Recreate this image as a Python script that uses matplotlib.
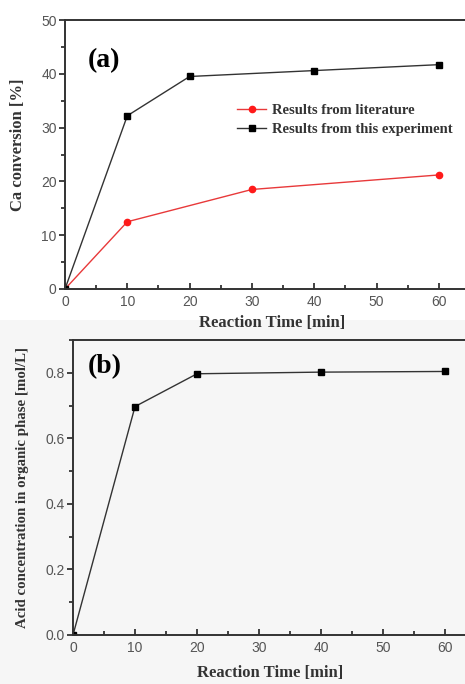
import matplotlib
matplotlib.use("Agg")
import matplotlib.pyplot as plt
from matplotlib.ticker import MultipleLocator
from matplotlib.patches import Rectangle

# Panel (a) data
lit_time = [0, 10, 30, 60]
lit_conv = [0, 12.5, 18.5, 21.2]
exp_time = [0, 10, 20, 40, 60]
exp_conv = [0, 32.2, 39.5, 40.6, 41.7]

# Panel (b) data
acid_time = [0, 10, 20, 40, 60]
acid_conc = [0, 0.697, 0.797, 0.802, 0.804]

xticks = [0, 10, 20, 30, 40, 50, 60]

W, H = 465, 684
fig = plt.figure(figsize=(W / 100, H / 100), dpi=100)
fig.patch.set_facecolor("white")
fig.add_artist(Rectangle((0, 0), 1, 1 - 320 / H, transform=fig.transFigure,
                         facecolor="#f6f6f6", edgecolor="none", zorder=0))

TICK_FAM, TICK_SIZE, TICK_COL = "Liberation Sans", 10, "#555555"
label_font = {"family": "Liberation Serif", "weight": "bold", "size": 12, "color": "#333333"}


def fix_ticklabels(ax):
    for lab in ax.get_xticklabels() + ax.get_yticklabels():
        lab.set_fontfamily(TICK_FAM)
        lab.set_fontsize(TICK_SIZE)
        lab.set_color(TICK_COL)


def style(ax, xmax, ymax, ymaj, ymin):
    ax.set_facecolor("none")
    ax.set_xlim(0, xmax)
    ax.set_ylim(0, ymax)
    ax.set_xticks(xticks)
    ax.xaxis.set_minor_locator(MultipleLocator(5))
    ax.yaxis.set_major_locator(MultipleLocator(ymaj))
    ax.yaxis.set_minor_locator(MultipleLocator(ymin))
    ax.tick_params(axis="x", which="both", direction="in", color="#333333", width=1.3, pad=4)
    ax.tick_params(axis="x", which="major", length=4)
    ax.tick_params(axis="x", which="minor", length=3)
    ax.tick_params(axis="y", which="both", direction="out", color="#333333", width=1.3, pad=2)
    ax.tick_params(axis="y", which="major", length=4)
    ax.tick_params(axis="y", which="minor", length=3)
    for sp in ax.spines.values():
        sp.set_color("#333333")
        sp.set_linewidth(1.4)
    ax.spines["right"].set_visible(False)


def place_labels(ax, xpos, ypos):
    ax.xaxis.set_label_coords(*xpos)
    ax.yaxis.set_label_coords(*ypos)
    ax.xaxis.label.set_verticalalignment("center")
    ax.yaxis.label.set_verticalalignment("center")


# Panel (a)
A_L, A_B, A_T = 65, 289, 20
axa = fig.add_axes([A_L / W, 1 - A_B / H, 1 - A_L / W, (A_B - A_T) / H])
axa.plot(lit_time, lit_conv, color="#e8393a", lw=1.0, marker="o", ms=4.5,
         mfc="#ff1a1a", mec="#ff1a1a", label="Results from literature")
axa.plot(exp_time, exp_conv, color="#333333", lw=1.0, marker="s", ms=3.8,
         mfc="black", mec="black", label="Results from this experiment")
style(axa, 64.2, 50, 10, 5)
axa.set_yticks([0, 10, 20, 30, 40, 50])
fix_ticklabels(axa)
axa.set_xlabel("Reaction Time [min]", fontdict=label_font)
axa.set_ylabel("Ca conversion [%]", fontdict=label_font)
aw, ah = W - A_L, A_B - A_T
place_labels(axa, ((272 - A_L) / aw, (A_B - 323) / ah),
             ((18 - A_L) / aw, (A_B - 145) / ah))
axa.text((88 - A_L) / aw, (A_B - 61) / ah, "(a)", transform=axa.transAxes,
         fontfamily="Liberation Serif", fontweight="bold", fontsize=20,
         color="black", va="center", ha="left")
axa.legend(loc="upper left", bbox_to_anchor=((237 - A_L) / aw, (A_B - 104) / ah),
           frameon=False, borderpad=0, borderaxespad=0,
           prop={"family": "Liberation Serif", "weight": "bold", "size": 10.5},
           handlelength=2.0, handletextpad=0.4, labelspacing=0.4,
           labelcolor="#333333")

# Panel (b)
B_L, B_B, B_T = 73, 635, 340
axb = fig.add_axes([B_L / W, 1 - B_B / H, 1 - B_L / W, (B_B - B_T) / H])
axb.plot(acid_time, acid_conc, color="#333333", lw=1.0, marker="s", ms=3.8,
         mfc="black", mec="black")
style(axb, 63.2, 0.9, 0.2, 0.1)
axb.set_yticks([0.0, 0.2, 0.4, 0.6, 0.8])
axb.set_yticklabels(["0.0", "0.2", "0.4", "0.6", "0.8"])
fix_ticklabels(axb)
axb.set_xlabel("Reaction Time [min]", fontdict=label_font)
axb.set_ylabel("Acid concentration in organic phase [mol/L]",
               fontdict={**label_font, "size": 10.7})
bw, bh = W - B_L, B_B - B_T
place_labels(axb, ((270 - B_L) / bw, (B_B - 673) / bh),
             ((23 - B_L) / bw, (B_B - 487) / bh))
axb.text((88 - B_L) / bw, (B_B - 367) / bh, "(b)", transform=axb.transAxes,
         fontfamily="Liberation Serif", fontweight="bold", fontsize=20,
         color="black", va="center", ha="left")

fig.savefig("out.png", dpi=100, facecolor=fig.get_facecolor())
